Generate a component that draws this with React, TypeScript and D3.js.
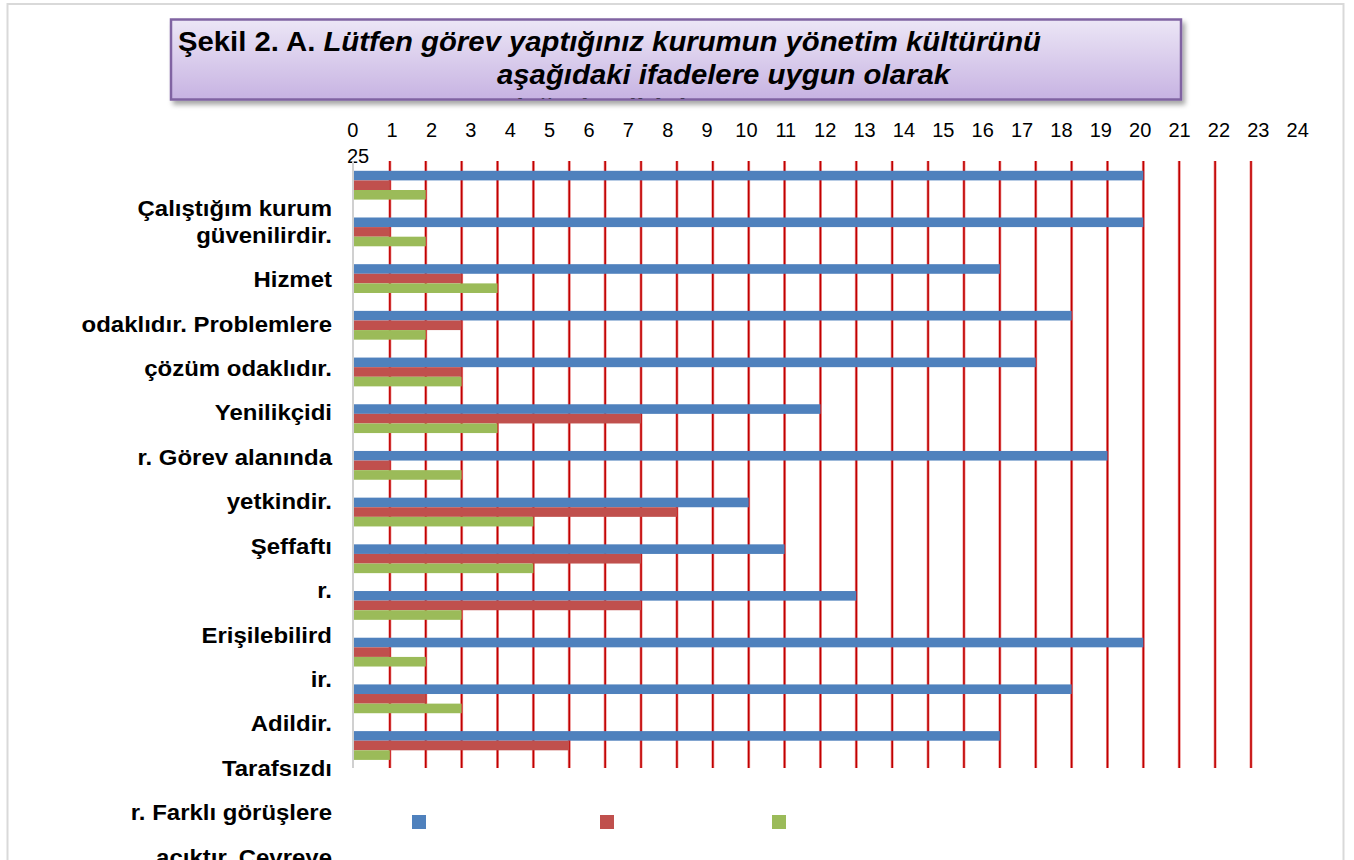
import * as d3 from 'd3'

// 13 statement groups, top to bottom
const groups = ['s1', 's2', 's3', 's4', 's5', 's6', 's7', 's8', 's9', 's10', 's11', 's12', 's13']
const blueValues = [22, 22, 18, 20, 19, 13, 21, 11, 12, 14, 22, 20, 18]
const redValues = [1, 1, 3, 3, 3, 8, 1, 9, 8, 8, 1, 2, 6]
const greenValues = [2, 2, 4, 2, 3, 4, 3, 5, 5, 3, 2, 3, 1]
const seriesColors = ['#4f81bd', '#c0504d', '#9bbb59']

const tickLabels = ['0', '1', '2', '3', '4', '5', '6', '7', '8', '9', '10', '11', '12', '13', '14', '15', '16', '17', '18', '19', '20', '21', '22', '23', '24', '25']

// category text as it wraps in the original (broken across the slots)
const labelLines = [
  'Çalıştığım kurum',
  'güvenilirdir.',
  'Hizmet',
  'odaklıdır. Problemlere',
  'çözüm odaklıdır.',
  'Yenilikçidi',
  'r. Görev alanında',
  'yetkindir.',
  'Şeffaftı',
  'r.',
  'Erişilebilird',
  'ir.',
  'Adildir.',
  'Tarafsızdı',
  'r. Farklı görüşlere',
  'açıktır. Çevreye',
]

const titleBold = 'Şekil 2. A. '
const titleLine1 = 'Lütfen görev yaptığınız kurumun yönetim kültürünü'
const titleLine2 = 'aşağıdaki ifadelere uygun olarak'
const titleLine3 = 'değerlendiriniz.'

export default function App() {
  const width = 1354
  const height = 860
  const plot = { left: 354, right: 1251, top: 161, bottom: 768 }

  const x = d3.scaleLinear().domain([0, 25]).range([plot.left, plot.right])
  const y = d3.scaleBand().domain(groups).range([plot.top, plot.bottom]).padding(0)
  const barH = 9.6
  const barOffset = 9.8

  const tickX = d3
    .scalePoint<string>()
    .domain(tickLabels.slice(0, 25))
    .range([352.7, 1297.7])

  const lineY = d3.scaleLinear().domain([1, 15]).range([235, 857])
  const labelFont = '"Liberation Sans", Arial, Helvetica, sans-serif'

  const series = [blueValues, redValues, greenValues]
  const legendX = [412, 600, 772]

  return (
    <svg
      width={width}
      height={height}
      style={{ position: 'absolute', left: 0, top: 0, background: '#fff' }}
      fontFamily={labelFont}
    >
      <defs>
        <linearGradient id="titleFill" x1="0" y1="0" x2="0" y2="1">
          <stop offset="0%" stopColor="#ece6f6" />
          <stop offset="100%" stopColor="#c7b3e2" />
        </linearGradient>
        <filter id="shadow" x="-5%" y="-20%" width="110%" height="160%">
          <feDropShadow dx="3" dy="4" stdDeviation="2.5" floodColor="#000" floodOpacity="0.35" />
        </filter>
        <clipPath id="titleClip">
          <rect x={171} y={20} width={1009} height={78.5} />
        </clipPath>
      </defs>

      {/* outer chart frame */}
      <rect x={7.5} y={4} width={1336} height={870} fill="#fff" stroke="#d9d9d9" strokeWidth={2} />

      {/* title box */}
      <rect x={171} y={19.5} width={1010} height={80} fill="url(#titleFill)" stroke="#8064a2" strokeWidth={2.5} filter="url(#shadow)" />
      <g clipPath="url(#titleClip)" fontWeight="bold" fill="#000" fontSize={28}>
        <text x={178} y={51} textLength={863} lengthAdjust="spacingAndGlyphs">
          <tspan>{titleBold}</tspan>
          <tspan fontStyle="italic">{titleLine1}</tspan>
        </text>
        <text x={497} y={84} textLength={453} lengthAdjust="spacingAndGlyphs" fontStyle="italic">
          {titleLine2}
        </text>
        <text x={505} y={118} textLength={200} lengthAdjust="spacingAndGlyphs" fontStyle="italic">
          {titleLine3}
        </text>
      </g>

      {/* top value labels, flowing like wrapped text */}
      <g fontSize={20} fill="#000">
        {tickLabels.slice(0, 25).map((t) => (
          <text key={t} x={tickX(t)} y={130} dy="0.35em" textAnchor="middle">
            {t}
          </text>
        ))}
        <text x={347} y={156} dy="0.35em">
          {tickLabels[25]}
        </text>
      </g>

      {/* red vertical gridlines */}
      <g>
        {x.ticks(25).filter((v) => v > 0).map((v) => (
          <g key={v}>
            <line x1={x(v)} x2={x(v)} y1={plot.top} y2={plot.bottom} stroke="#f09a9a" strokeWidth={3} />
            <line x1={x(v)} x2={x(v)} y1={plot.top} y2={plot.bottom} stroke="#c00000" strokeWidth={1.6} />
          </g>
        ))}
      </g>

      {/* bars */}
      <g>
        {groups.map((g, i) =>
          series.map((vals, s) => (
            <rect
              key={`${g}-${s}`}
              x={x(0)}
              y={(y(g) ?? 0) + barOffset + s * barH}
              width={x(vals[i]) - x(0)}
              height={barH}
              fill={seriesColors[s]}
            />
          ))
        )}
      </g>

      {/* category axis line */}
      <line x1={x(0) - 1} x2={x(0) - 1} y1={plot.top} y2={plot.bottom} stroke="#d0d0d0" strokeWidth={2} />

      {/* category labels */}
      <g fontSize={22} fontWeight="bold" fill="#000" textAnchor="end">
        {labelLines.map((t, i) => (
          <text
            key={i}
            transform={`translate(332,${i === 0 ? lineY(1) - 27 : lineY(i)}) scale(1.09,1)`}
            dy="0.35em"
          >
            {t}
          </text>
        ))}
      </g>

      {/* legend swatches (labels not shown in original) */}
      <g>
        {seriesColors.map((c, i) => (
          <rect key={c} x={legendX[i]} y={815} width={14} height={14} fill={c} />
        ))}
      </g>
    </svg>
  )
}
